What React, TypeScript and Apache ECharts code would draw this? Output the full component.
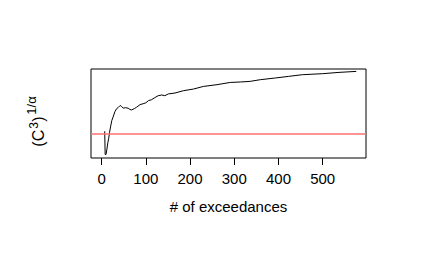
import React, { useEffect, useRef } from "react";
import * as echarts from "echarts";

const xValues = [7, 8, 10, 12, 14, 16, 18, 21, 23, 26, 30, 34, 38, 42, 45, 49, 54, 60, 64, 68, 74, 79, 87, 94, 100, 106, 113, 121, 128, 136, 143, 151, 166, 185, 208, 230, 261, 291, 314, 336, 359, 393, 423, 454, 499, 537, 576];
const yValues = [30, 4, 4, 10, 17, 22, 29, 37, 42, 46, 52, 55.5, 57, 59, 58, 56, 56.5, 56, 54.5, 54, 55.5, 57, 60, 61, 62, 64.5, 65.5, 68, 70, 70.8, 70, 72, 73, 75.6, 77.5, 80.4, 82.4, 84.9, 85.4, 86.1, 88, 89.9, 91.7, 93.6, 94.7, 96.2, 97.3];
const xTicks = [0, 100, 200, 300, 400, 500];
const refLevel = 27.3;
const xTitle = "# of exceedances";

export default function App() {
  const ref = useRef<HTMLDivElement>(null);
  useEffect(() => {
    if (!ref.current) return;
    const chart = echarts.init(ref.current, undefined, { renderer: "svg" });
    const font = "'Liberation Sans', Arial, Helvetica, sans-serif";
    chart.setOption({
      animation: false,
      backgroundColor: "#fff",
      grid: {
        left: 91,
        top: 69,
        right: 70,
        bottom: 106,
        show: true,
        borderColor: "#000",
        borderWidth: 1,
        backgroundColor: "transparent",
      },
      xAxis: {
        type: "value",
        min: -24,
        max: 598,
        axisLine: { show: false },
        splitLine: { show: false },
        axisTick: {
          show: true,
          inside: false,
          length: 7,
          lineStyle: { color: "#000", width: 1 },
          customValues: xTicks,
        },
        axisLabel: {
          show: true,
          margin: 13,
          fontSize: 15,
          color: "#000",
          fontFamily: font,
          customValues: xTicks,
        },
        name: xTitle,
        nameLocation: "middle",
        nameGap: 41,
        nameTextStyle: { fontSize: 15, color: "#000", fontFamily: font, verticalAlign: "top" },
      },
      yAxis: {
        type: "value",
        min: 0,
        max: 100,
        axisLine: { show: false },
        axisTick: { show: false },
        axisLabel: { show: false },
        splitLine: { show: false },
      },
      graphic: [
        {
          type: "group",
          x: 43.5,
          y: 146.7,
          rotation: Math.PI / 2,
          children: [
            { type: "text", x: 0, y: 3.4, style: { text: "(C", fontSize: 16, fontFamily: font, fill: "#000", align: "left", verticalAlign: "bottom" } },
            { type: "text", x: 18, y: -4, style: { text: "3", fontSize: 12, fontFamily: font, fill: "#000", align: "left", verticalAlign: "bottom" } },
            { type: "text", x: 25, y: 3.4, style: { text: ")", fontSize: 16, fontFamily: font, fill: "#000", align: "left", verticalAlign: "bottom" } },
            { type: "text", x: 32, y: -5.3, style: { text: "1/α", fontSize: 13, fontFamily: font, fill: "#000", align: "left", verticalAlign: "bottom" } },
          ],
        },
      ],
      series: [
        {
          type: "line",
          data: xValues.map((x, i) => [x, yValues[i]]),
          symbol: "none",
          lineStyle: { color: "#000", width: 1 },
          markLine: {
            silent: true,
            symbol: "none",
            label: { show: false },
            lineStyle: { color: "#ff7070", width: 1.5, type: "solid" },
            data: [{ yAxis: refLevel }],
          },
        },
      ],
    });
    return () => chart.dispose();
  }, []);
  return <div ref={ref} style={{ position: "fixed", left: 0, top: 0, width: 436, height: 264 }} />;
}
